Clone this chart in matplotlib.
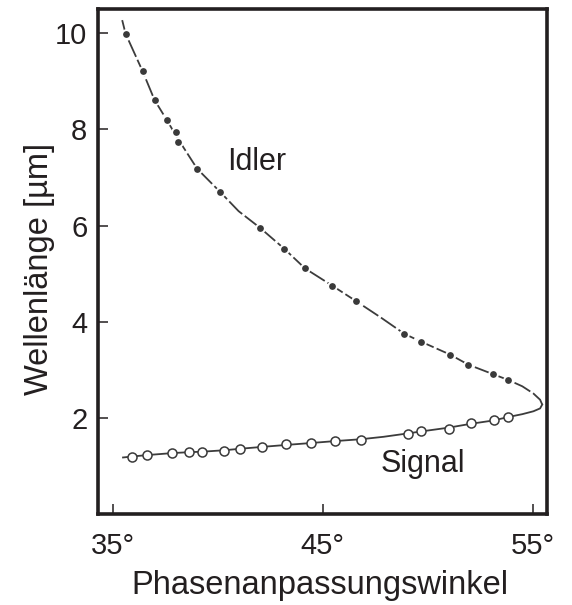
import numpy as np
import matplotlib
matplotlib.use('Agg')
import matplotlib.pyplot as plt

plt.rcParams['font.family'] = ['Liberation Sans', 'DejaVu Sans']

# measured points (angle in degrees, wavelength in um)
idler_angle = [35.62, 36.43, 37.00, 37.59, 38.01, 38.12, 39.03, 40.12, 42.03, 43.17,
               44.16, 45.46, 46.59, 48.89, 49.67, 51.06, 51.93, 53.12, 53.84]
idler_wl = [9.99, 9.21, 8.61, 8.19, 7.94, 7.73, 7.18, 6.70, 5.95, 5.52,
            5.11, 4.75, 4.43, 3.75, 3.59, 3.32, 3.11, 2.91, 2.79]

signal_angle = [35.93, 36.65, 37.81, 38.63, 39.27, 40.31, 41.05, 42.12, 43.25, 44.43,
                45.57, 46.84, 49.05, 49.67, 51.00, 52.05, 53.14, 53.82]
signal_wl = [1.19, 1.23, 1.28, 1.29, 1.30, 1.32, 1.36, 1.39, 1.46, 1.48,
             1.52, 1.55, 1.66, 1.73, 1.77, 1.89, 1.95, 2.03]

# theory curve
curve_idler_angle = [35.46, 35.62, 36.43, 37.00, 37.59, 38.06, 39.03, 40.12, 41.00, 42.03,
                     43.17, 44.16, 45.46, 46.59, 47.80, 48.89, 49.67, 51.06, 51.93, 53.12,
                     53.84, 54.50, 55.03, 55.35, 55.45]
curve_idler_wl = [10.27, 9.99, 9.21, 8.61, 8.19, 7.84, 7.18, 6.70, 6.30, 5.95,
                  5.52, 5.11, 4.75, 4.43, 4.08, 3.75, 3.59, 3.32, 3.11, 2.91,
                  2.79, 2.66, 2.51, 2.38, 2.28]
curve_signal_angle = [55.45, 55.35, 55.03, 54.50, 53.82, 53.14, 52.05, 51.00, 49.67, 49.05,
                      47.90, 46.84, 45.57, 44.43, 43.25, 42.12, 41.05, 40.31, 39.27, 38.63,
                      37.81, 36.65, 35.93, 35.50]
curve_signal_wl = [2.28, 2.20, 2.14, 2.08, 2.02, 1.95, 1.88, 1.80, 1.72, 1.68,
                   1.61, 1.56, 1.52, 1.48, 1.44, 1.40, 1.36, 1.33, 1.30, 1.29,
                   1.27, 1.23, 1.20, 1.18]

xticks = [35, 45, 55]
yticks = [2, 4, 6, 8, 10]

ink = '#231f20'
line_col = '#3c3c3c'

fig = plt.figure(figsize=(5.72, 6.05), dpi=100)
ax = fig.add_axes([0.171, 0.150, 0.785, 0.835])

ax.plot(curve_idler_angle, curve_idler_wl, color=line_col, lw=1.3,
        dashes=(10, 1.8))
ax.plot(curve_signal_angle, curve_signal_wl, color=line_col, lw=1.3)

ax.plot(idler_angle, idler_wl, 'o', ms=6.3, mfc='#3a3a3a', mec='white', mew=1.4)
ax.plot(signal_angle, signal_wl, 'o', ms=6.5, mfc='white', mec='#3a3a3a', mew=1.1)

ax.text(41.86, 7.32, 'Idler', fontsize=22, color=ink, ha='center', va='center')
ax.text(49.79, 1.05, 'Signal', fontsize=22, color=ink, ha='center', va='center')

ax.set_xlim(34.3, 55.67)
ax.set_ylim(0, 10.5)
ax.set_xticks(xticks)
ax.set_xticklabels([f'{t}°' for t in xticks])
ax.set_yticks(yticks)
ax.tick_params(direction='in', length=7, width=1.1, color=ink, labelcolor=ink,
               labelsize=21)
ax.tick_params(axis='x', pad=12.5)
ax.tick_params(axis='y', pad=7.5)
for s in ax.spines.values():
    s.set_linewidth(2.6)
    s.set_color(ink)

ax.set_xlabel('Phasenanpassungswinkel', fontsize=23.5, color=ink)
ax.set_ylabel('Wellenlänge [µm]', fontsize=23.5, color=ink)
ax.xaxis.label.set_va('center')
ax.yaxis.label.set_va('center')
ax.xaxis.set_label_coords(0.494, -0.141)
ax.yaxis.set_label_coords(-0.129, 0.486)

fig.savefig('out.png', dpi=100)
